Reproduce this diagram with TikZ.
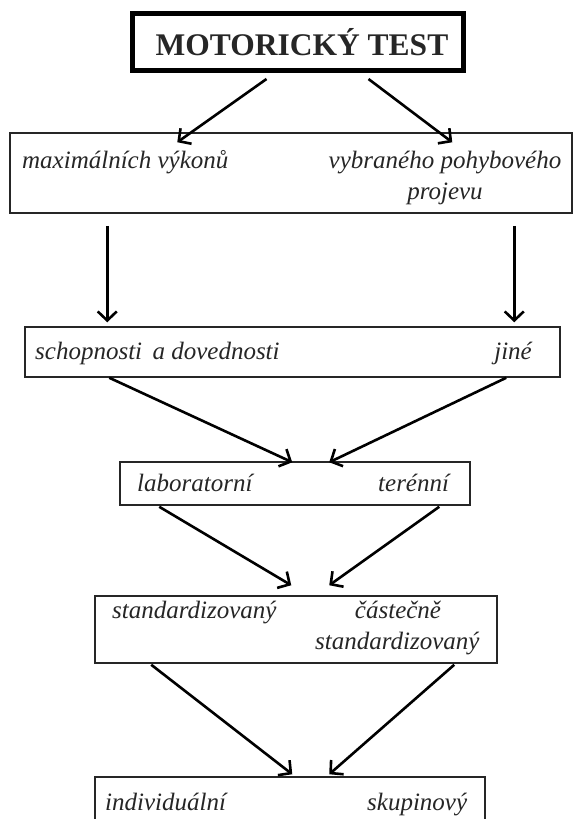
\documentclass[tikz,border=0pt]{standalone}
\usepackage{fontspec}
\setmainfont{Liberation Serif}
\usetikzlibrary{arrows.meta,calc}
\begin{document}
\begin{tikzpicture}[x=1pt,y=-1pt,
 box/.style={draw=black!85, line width=1.5pt, inner sep=0pt, rectangle},
 lbl/.style={font=\fontsize{25}{29}\selectfont\itshape, inner sep=0pt, text=black!85},
 arr/.style={line width=2.6pt, -{Straight Barb[length=9pt,width=19pt,line width=2.6pt]}}]
\clip (0,0) rectangle (574,819);
\fill[white] (0,0) rectangle (574,819);
% title
\node[draw=black, line width=5pt, minimum width=331pt, minimum height=57pt, inner sep=0pt] (t) at (297.5,42) {};
\node[font=\fontsize{31.5}{35}\selectfont\bfseries, inner sep=0pt, anchor=base, text=black!85] (tt) at (302,55) {MOTORICKÝ TEST};
% box 2
\node[box, minimum width=562pt, minimum height=80pt] (b2) at (291,173) {};
\node[lbl, anchor=base west] (b2a) at (22,168) {maximálních výkonů};
\node[lbl, anchor=base] (b2b) at (445,168) {vybraného pohybového};
\node[lbl, anchor=base] (b2c) at (445,199) {projevu};
% box 3
\node[box, minimum width=535pt, minimum height=50pt] (b3) at (292.5,352) {};
\node[lbl, anchor=base west] (b3a) at (35,359) {schopnosti\, a dovednosti};
\node[lbl, anchor=base east] (b3b) at (532,359) {jiné};
% box 4
\node[box, minimum width=350pt, minimum height=43pt] (b4) at (295,483.5) {};
\node[lbl, anchor=base west] (b4a) at (137,491) {laboratorní};
\node[lbl, anchor=base west] (b4b) at (378,491) {terénní};
% box 5
\node[box, minimum width=402pt, minimum height=67pt] (b5) at (296,629.5) {};
\node[lbl, anchor=base west] (b5a) at (112,618) {standardizovaný};
\node[lbl, anchor=base] (b5b) at (398,618) {částečně};
\node[lbl, anchor=base west] (b5c) at (315,649) {standardizovaný};
% box 6
\node[box, minimum width=390pt, minimum height=80pt] (b6) at (290,817) {};
\node[lbl, anchor=base west] (b6a) at (105,810) {individuální};
\node[lbl, anchor=base west] (b6b) at (367,810) {skupinový};
% arrows
\draw[arr] ($(t.south)+(-31,6)$) -- ($(b2.north west)+(168,10)$);
\draw[arr] ($(t.south)+(71,6)$) -- ($(b2.north west)+(443,10)$);
\draw[arr] ($(b2.south west)+(98,12)$) -- ($(b3.north west)+(83,-4)$);
\draw[arr] ($(b2.south west)+(505,12)$) -- ($(b3.north west)+(490,-4)$);
\draw[arr] ($(b3.south west)+(85,0)$) -- ($(b4.north west)+(173,1)$);
\draw[arr] ($(b3.south west)+(482,0)$) -- ($(b4.north west)+(210,1)$);
\draw[arr] ($(b4.south west)+(40,1)$) -- ($(b5.north west)+(197,-10)$);
\draw[arr] ($(b4.south west)+(320,1)$) -- ($(b5.north west)+(235,-10)$);
\draw[arr] ($(b5.south west)+(57,1)$) -- ($(b6.north west)+(198,-2)$);
\draw[arr] ($(b5.south west)+(360,1)$) -- ($(b6.north west)+(235,-2)$);
\end{tikzpicture}
\end{document}
